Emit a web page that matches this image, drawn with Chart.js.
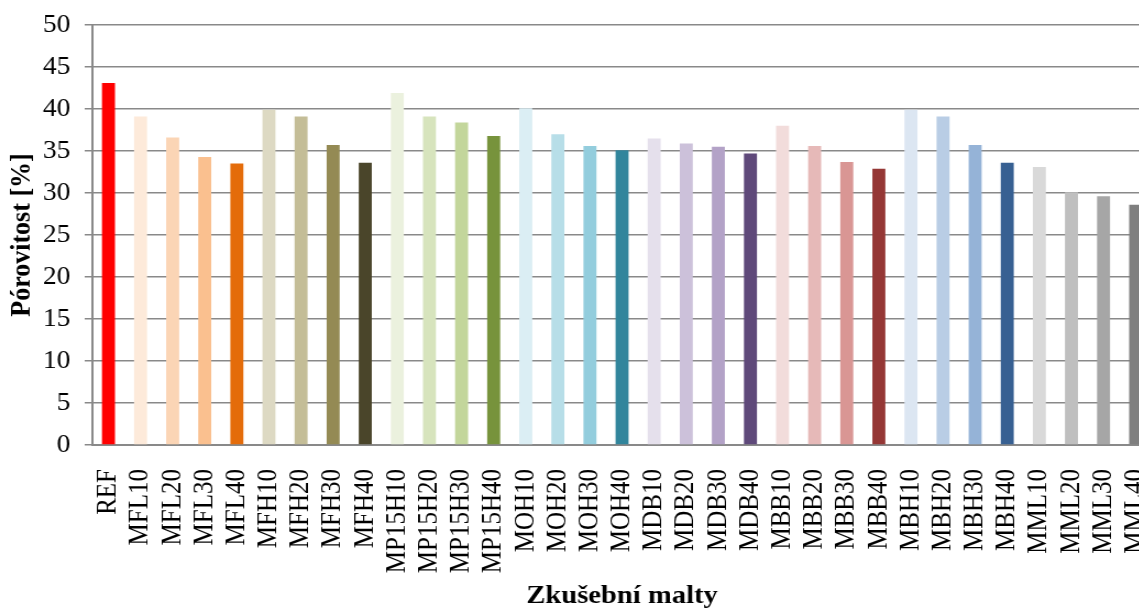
<!DOCTYPE html>
<html>
<head>
<meta charset="utf-8">
<script src="https://cdn.jsdelivr.net/npm/chart.js@4/dist/chart.umd.min.js"></script>
<style>
  html, body { margin: 0; padding: 0; overflow: hidden; background: #fff; }
  /* the reference text is slightly wide, so the whole drawing is stretched a little */
  #wrap { transform: scaleX(1.1); transform-origin: 0 0; width: 1050px; height: 609px; }
  #chart { display: block; }
</style>
</head>
<body>
<div id="wrap"><canvas id="chart" width="1050" height="609"></canvas></div>
<script>
// Mortar mixes and measured porosity [%]
const mixes = [
  'REF',
  'MFL10', 'MFL20', 'MFL30', 'MFL40',
  'MFH10', 'MFH20', 'MFH30', 'MFH40',
  'MP15H10', 'MP15H20', 'MP15H30', 'MP15H40',
  'MOH10', 'MOH20', 'MOH30', 'MOH40',
  'MDB10', 'MDB20', 'MDB30', 'MDB40',
  'MBB10', 'MBB20', 'MBB30', 'MBB40',
  'MBH10', 'MBH20', 'MBH30', 'MBH40',
  'MML10', 'MML20', 'MML30', 'MML40',
];
const porosity = [
  43.1,
  39.1, 36.6, 34.3, 33.5,
  39.9, 39.1, 35.7, 33.6,
  41.9, 39.1, 38.4, 36.8,
  40.1, 37.0, 35.6, 35.1,
  36.5, 35.9, 35.5, 34.7,
  38.0, 35.6, 33.7, 32.9,
  39.9, 39.1, 35.7, 33.6,
  33.1, 30.1, 29.6, 28.6,
];
const barColors = [
  '#FF0000',
  '#FDEADA', '#FBD5B5', '#FAC08F', '#E46C0A',
  '#DDD9C3', '#C4BD97', '#948A54', '#4A452A',
  '#EBF1DE', '#D7E4BD', '#C3D69B', '#77933C',
  '#DBEEF4', '#B7DEE8', '#93CDDD', '#31859C',
  '#E5E0EC', '#CCC1DA', '#B3A2C7', '#5F497A',
  '#F2DCDB', '#E6B9B8', '#D99694', '#953735',
  '#DCE6F2', '#B9CDE5', '#95B3D7', '#376092',
  '#D9D9D9', '#BFBFBF', '#A6A6A6', '#7F7F7F',
];
const yTicks = { min: 0, max: 50, step: 5 };

const serif = '"Liberation Serif", "Times New Roman", serif';
const gridGray = '#898989';

new Chart(document.getElementById('chart'), {
  type: 'bar',
  data: {
    labels: mixes,
    datasets: [{
      data:               porosity,
      backgroundColor:    barColors,
      borderWidth:        0,
      categoryPercentage: 1,
      barPercentage:      0.405,
    }],
  },
  options: {
    responsive:       false,
    devicePixelRatio: 1,
    animation:        false,
    layout: { padding: { top: 25, right: 3, bottom: 0, left: 0 } },
    plugins: {
      legend:  { display: false },
      tooltip: { enabled: false },
    },
    scales: {
      x: {
        grid:   { display: false },
        border: { color: gridGray, width: 2 },
        ticks: {
          color: '#000', autoSkip: false, minRotation: 90, maxRotation: 90,
          padding: 16, font: { family: serif, size: 25 },
        },
        title: {
          display: true, text: 'Zkušební malty', color: '#000',
          font: { family: serif, size: 26, weight: 'bold', lineHeight: 1 },
          padding: { top: 0, bottom: 0 },
        },
        afterFit(scale) {
          scale.height = 164;
          // the last label may run off the page, as in the reference
          scale.paddingLeft = 0;
          scale.paddingRight = 0;
        },
      },
      y: {
        min: yTicks.min, max: yTicks.max,
        grid:   { color: gridGray, lineWidth: 1.5, tickLength: 7 },
        border: { color: gridGray, width: 2 },
        ticks: {
          color: '#000', stepSize: yTicks.step, padding: 13,
          font: { family: serif, size: 25 },
        },
        title: {
          display: true, text: 'Pórovitost [%]', color: '#000',
          font: { family: serif, size: 26, weight: 'bold', lineHeight: 1 },
          padding: { top: 7, bottom: 0 },
        },
        afterFit(scale) {
          scale.width = 84;
          scale.paddingTop = 0;
          scale.paddingBottom = 0;
        },
      },
    },
  },
});
</script>
</body>
</html>
